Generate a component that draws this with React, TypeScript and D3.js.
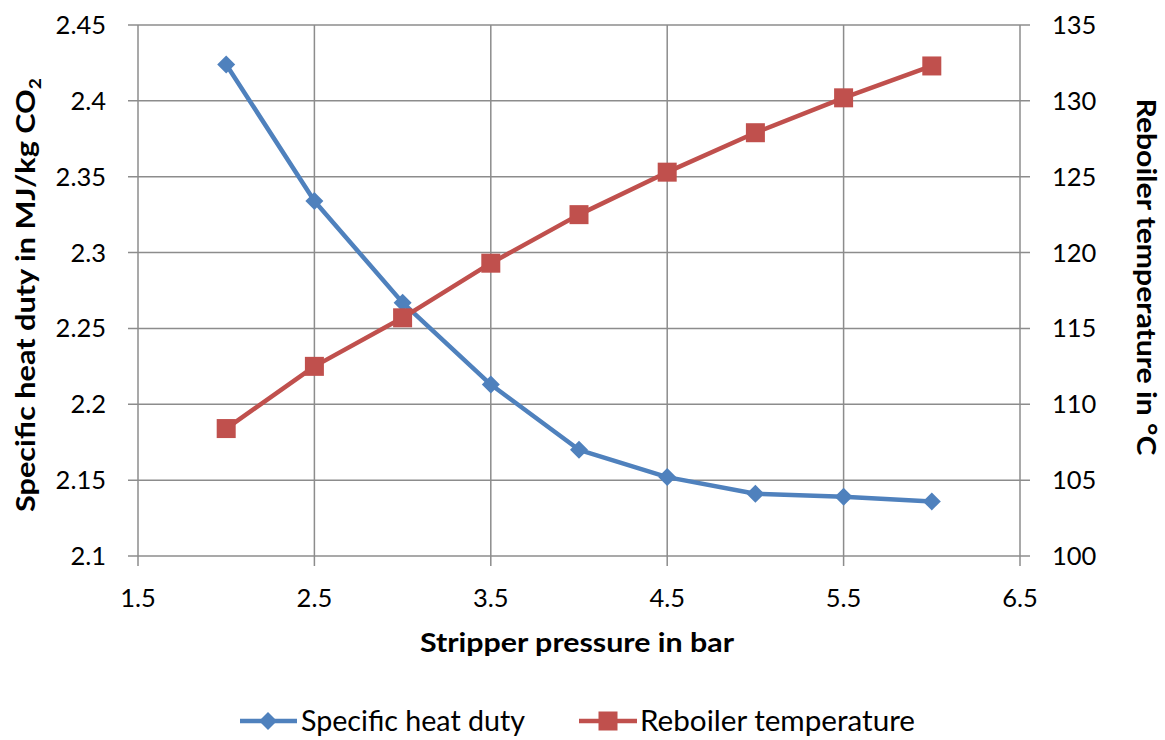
import React from "react";
import * as d3 from "d3";

const pressures = [2.0, 2.5, 3.0, 3.5, 4.0, 4.5, 5.0, 5.5, 6.0];
const heatDuty = [2.424, 2.334, 2.267, 2.213, 2.170, 2.152, 2.141, 2.139, 2.136];
const reboilerTemp = [108.4, 112.5, 115.7, 119.3, 122.5, 125.3, 127.9, 130.2, 132.3];
const xTicks = [1.5, 2.5, 3.5, 4.5, 5.5, 6.5];
const yLeftTicks = [2.1, 2.15, 2.2, 2.25, 2.3, 2.35, 2.4, 2.45];
const yRightTicks = [100, 105, 110, 115, 120, 125, 130, 135];

const W = 1165, H = 740;
const L = 138, R = 1020, T = 25, B = 556;
const BLUE = "#4F81BD", RED = "#C0504D", GRID = "#8c8c8c";
const FONT = "Lato, 'Open Sans', sans-serif";

export default function App() {
  const x = d3.scaleLinear().domain([1.5, 6.5]).range([L, R]);
  const yL = d3.scaleLinear().domain([2.1, 2.45]).range([B, T]);
  const yR = d3.scaleLinear().domain([100, 135]).range([B, T]);
  const lineL = d3.line<number>().x((_, i) => x(pressures[i])).y((d) => yL(d));
  const lineR = d3.line<number>().x((_, i) => x(pressures[i])).y((d) => yR(d));
  const diamond = (cx: number, cy: number, r: number) =>
    `M${cx},${cy - r}L${cx + r},${cy}L${cx},${cy + r}L${cx - r},${cy}Z`;
  const fmt = (v: number) => String(v);

  return (
    <svg width={W} height={H} style={{ position: "absolute", left: 0, top: 0, background: "#fff" }} fontFamily={FONT}>
      {yLeftTicks.map((t) => (
        <line key={"h" + t} x1={L - 10} x2={R + 10} y1={yL(t)} y2={yL(t)} stroke={GRID} strokeWidth={1.5} />
      ))}
      {xTicks.map((t) => (
        <line key={"v" + t} x1={x(t)} x2={x(t)} y1={T} y2={B + 10} stroke={GRID} strokeWidth={1.5} />
      ))}
      {yLeftTicks.map((t) => (
        <text key={"yl" + t} x={106} y={yL(t) + 9} textAnchor="end" fontSize={25.5} fill="#000">{fmt(t)}</text>
      ))}
      {yRightTicks.map((t) => (
        <text key={"yr" + t} x={1052} y={yR(t) + 9} textAnchor="start" fontSize={25.5} fill="#000">{fmt(t)}</text>
      ))}
      {xTicks.map((t) => (
        <text key={"xt" + t} x={x(t)} y={607} textAnchor="middle" fontSize={25.5} fill="#000">{fmt(t)}</text>
      ))}
      <text x={577} y={652} textAnchor="middle" fontSize={27} fontWeight="bold" fill="#000"
        textLength={314} lengthAdjust="spacingAndGlyphs">Stripper pressure in bar</text>
      <text transform={`translate(35,${295}) rotate(-90)`} textAnchor="middle" fontSize={27} fontWeight="bold" fill="#000"
        textLength={434} lengthAdjust="spacingAndGlyphs">
        Specific heat duty in MJ/kg CO<tspan fontSize={17} dy={6}>2</tspan>
      </text>
      <text transform={`translate(1137,${277}) rotate(90)`} textAnchor="middle" fontSize={26} fontWeight="bold" fill="#000"
        textLength={357} lengthAdjust="spacingAndGlyphs">
        Reboiler temperature in °C
      </text>
      <path d={lineL(heatDuty) || ""} fill="none" stroke={BLUE} strokeWidth={4.5} strokeLinejoin="round" />
      {heatDuty.map((v, i) => (
        <path key={"d" + i} d={diamond(x(pressures[i]), yL(v), 9)} fill={BLUE} />
      ))}
      <path d={lineR(reboilerTemp) || ""} fill="none" stroke={RED} strokeWidth={4.5} strokeLinejoin="round" />
      {reboilerTemp.map((v, i) => (
        <rect key={"s" + i} x={x(pressures[i]) - 9.5} y={yR(v) - 9.5} width={19} height={19} fill={RED} />
      ))}
      <line x1={240} x2={297} y1={721} y2={721} stroke={BLUE} strokeWidth={4.5} />
      <path d={diamond(268, 721, 9)} fill={BLUE} />
      <text x={301} y={731} fontSize={28} fill="#000" textLength={224} lengthAdjust="spacingAndGlyphs">Specific heat duty</text>
      <line x1={579} x2={637} y1={721} y2={721} stroke={RED} strokeWidth={4.5} />
      <rect x={598.5} y={711.5} width={19} height={19} fill={RED} />
      <text x={640} y={731} fontSize={28} fill="#000" textLength={275} lengthAdjust="spacingAndGlyphs">Reboiler temperature</text>
    </svg>
  );
}
